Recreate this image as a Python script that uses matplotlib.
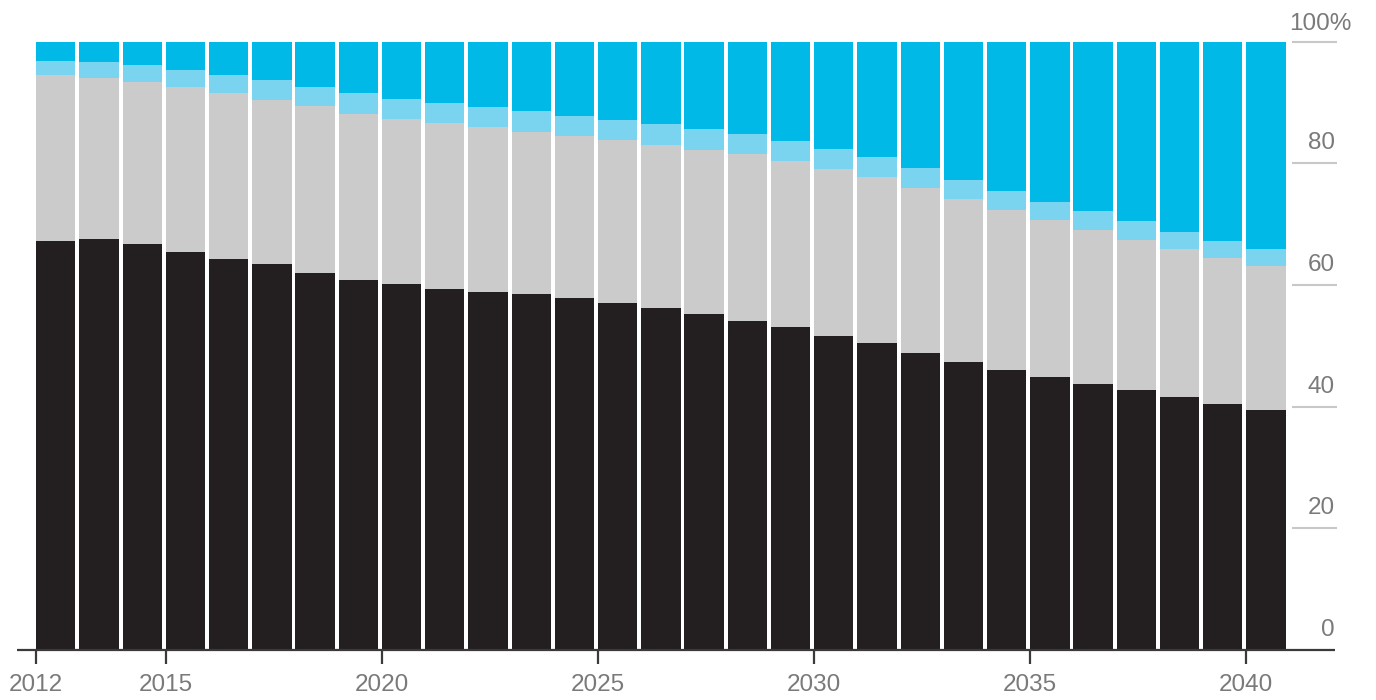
#!/usr/bin/env python3
"""
plot.py

Stacked 100% bar chart, 2012-2040, four shares per year.
"""

import numpy as np
import matplotlib

matplotlib.use("Agg")
import matplotlib.pyplot as plt

years = list(range(2012, 2041))

# share per year, bottom to top (percent)
black_share = [67.2, 67.5, 66.7, 65.4, 64.3, 63.4, 61.9, 60.9, 60.1, 59.4,
               58.9, 58.5, 57.8, 57.0, 56.3, 55.3, 54.1, 53.1, 51.7, 50.4,
               48.8, 47.4, 46.0, 44.9, 43.7, 42.7, 41.6, 40.5, 39.5]
gray_share = [27.4, 26.5, 26.7, 27.2, 27.2, 27.1, 27.5, 27.3, 27.2, 27.2,
              27.0, 26.6, 26.7, 26.8, 26.7, 26.9, 27.4, 27.3, 27.3, 27.3,
              27.1, 26.8, 26.4, 25.8, 25.3, 24.7, 24.3, 24.0, 23.7]
light_blue_share = [2.3, 2.6, 2.8, 2.8, 3.1, 3.2, 3.2, 3.3, 3.3, 3.3,
                    3.3, 3.5, 3.3, 3.3, 3.4, 3.4, 3.3, 3.2, 3.3, 3.3,
                    3.3, 3.0, 3.0, 2.9, 3.1, 3.1, 2.9, 2.8, 2.8]
blue_share = [3.1, 3.4, 3.8, 4.6, 5.4, 6.3, 7.4, 8.5, 9.4, 10.1,
              10.8, 11.4, 12.2, 12.9, 13.6, 14.4, 15.2, 16.4, 17.7, 19.0,
              20.8, 22.8, 24.6, 26.4, 27.9, 29.5, 31.2, 32.7, 34.0]

x_ticks = [2012, 2015, 2020, 2025, 2030, 2035, 2040]
y_ticks = [0, 20, 40, 60, 80, 100]

colors = ["#231f20", "#cbcbcb", "#7bd4ef", "#00b9e6"]
text_color = "#7a7a7a"

plt.rcParams["font.family"] = ["Liberation Sans", "DejaVu Sans"]

fig = plt.figure(figsize=(13.76, 7.0), dpi=100)
ax = fig.add_axes([0, 0, 1, 1])
ax.set_xlim(2011.165, 2043.0)
ax.set_ylim(-8.22, 106.86)
ax.axis("off")

# stacked bars
bottom = np.zeros(len(years))
for vals, col in zip([black_share, gray_share, light_blue_share, blue_share], colors):
    ax.bar(years, vals, width=0.91, bottom=bottom, align="edge",
           color=col, edgecolor="none", zorder=2)
    bottom += np.array(vals)

# baseline and ticks
ax.hlines(0, 2011.56, 2042.05, color="#3a3a3a", lw=1.6, zorder=3)
for yr in x_ticks:
    ax.vlines(yr, -2.3, 0, color="#3a3a3a", lw=1.6, zorder=3)
    ax.text(yr, -5.75, str(yr), ha="center", va="center",
            fontsize=17.5, color=text_color)

# right-hand gridlines and labels
for v in y_ticks:
    if v > 0:
        ax.hlines(v, 2041.05, 2042.1, color="#c8c8c8", lw=1.5, zorder=3)
    if v == 100:
        ax.text(2041.0, v + 2.0, "100%", ha="left", va="baseline",
                fontsize=17.5, color=text_color)
    else:
        ax.text(2042.05, v + 2.3, str(v), ha="right", va="baseline",
                fontsize=17.5, color=text_color)

fig.savefig("out.png", dpi=100)
